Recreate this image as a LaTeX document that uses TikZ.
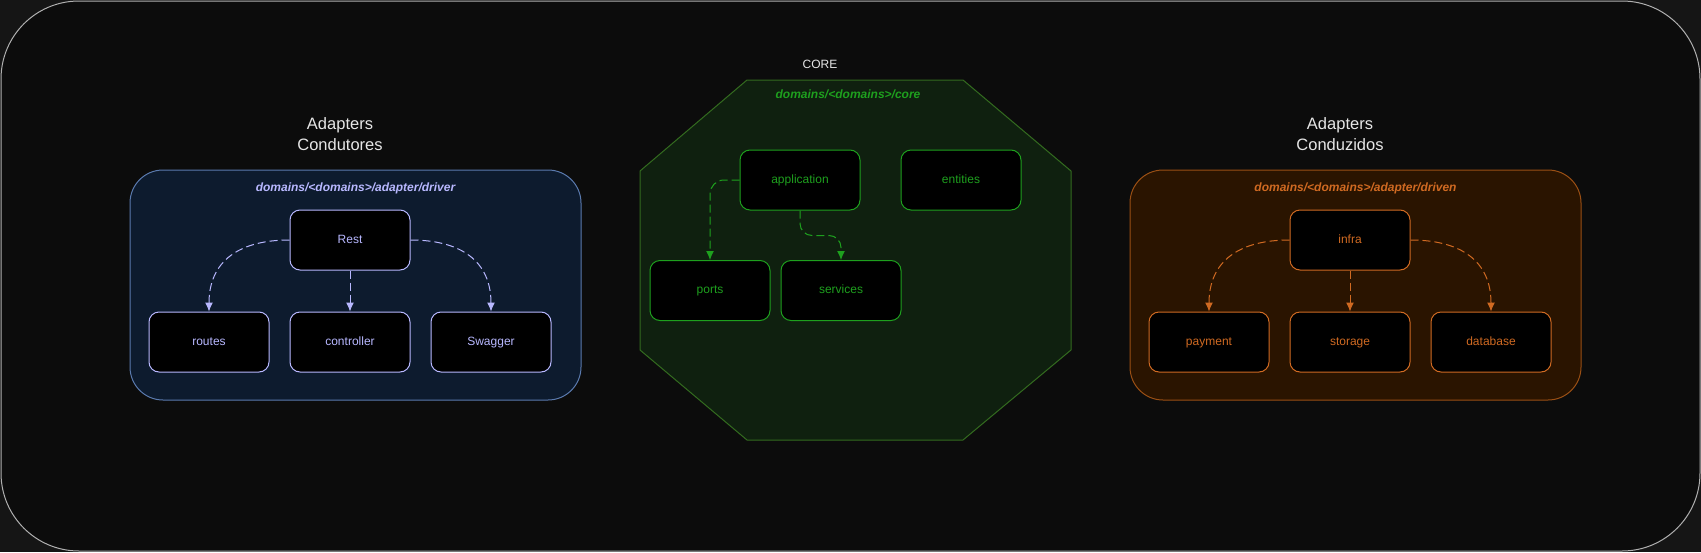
\documentclass[tikz,border=0pt]{standalone}
\usepackage{fontspec}
\setmainfont{Liberation Sans}
\usetikzlibrary{arrows.meta,positioning}

\definecolor{bgout}{HTML}{151515}
\definecolor{bgin}{HTML}{0C0C0C}
\definecolor{frame}{HTML}{B0B0B0}
\definecolor{titletext}{HTML}{E6E6E6}
\definecolor{drvfill}{HTML}{0D1B2E}
\definecolor{drvline}{HTML}{5A7AAE}
\definecolor{drvtext}{HTML}{B8B8FF}
\definecolor{corefill}{HTML}{0F200F}
\definecolor{coreline}{HTML}{336B1F}
\definecolor{coretext}{HTML}{1EA01E}
\definecolor{dnfill}{HTML}{2A1400}
\definecolor{dnline}{HTML}{9A4F14}
\definecolor{dntext}{HTML}{D06A22}

\tikzset{box/.style    = {rectangle, draw=#1, text=#1, fill=black, rounded corners=10pt, minimum width=120pt,
		minimum height=60pt, inner sep=0pt, text height=9pt, text depth=2.5pt, font=\fontsize{12}{14}\selectfont},
	panel/.style  = {rectangle, draw, rounded corners=33pt, minimum width=451pt, minimum height=230pt},
	tag/.style    = {font=\fontsize{12}{14}\selectfont\bfseries\itshape},
	title/.style  = {text=titletext, align=center, font=\fontsize{16.5}{21}\selectfont},
	line/.style   = {draw, dash pattern=on 8pt off 4pt, -{Latex[length=9pt,width=8pt]}}
}

\begin{document}
\begin{tikzpicture}[x=1pt, y=-1pt, line width=1pt]
		\useasboundingbox (0,0) rectangle (1701,552);
		\fill[bgout] (0,0) rectangle (1701,552);
		\draw[frame, fill=bgin, rounded corners=78pt] (1,1) rectangle (1700,551);

		%% adapters condutores (driver)
		\node [title] (drvtitle) at (340,134.5) {Adapters\\Condutores};
		\node [panel, draw=drvline, fill=drvfill] (driver) at (355.5,285) {};
		\node [tag, drvtext] (drvtag) at ([yshift=-19pt]driver.north) {domains/<domains>/adapter/driver};
		\node [box=drvtext] (rest) at (350,240) {Rest};
		\node [box=drvtext, below=41pt of rest] (controller) {controller};
		\node [box=drvtext, left=20pt of controller] (routes) {routes};
		\node [box=drvtext, right=20pt of controller] (swagger) {Swagger};
		\path [line, drvtext] (rest.west) to[out=180, in=90, looseness=1.2] (routes.north);
		\path [line, drvtext] (rest.south) -- (controller.north);
		\path [line, drvtext] (rest.east) to[out=0, in=90, looseness=1.2] (swagger.north);

		%% core
		\node [text=titletext, font=\fontsize{12}{14}\selectfont] (coretitle) at (820,64) {CORE};
		\path [draw=coreline, fill=corefill] (747,80) -- (963,80) -- (1071,171) -- (1071,350) -- (963,440)
			-- (747,440) -- (640,350) -- (640,171) -- cycle;
		\node [tag, coretext] (coretag) at (848,94) {domains/<domains>/core};
		\node [box=coretext] (app) at (800,180) {application};
		\node [box=coretext, right=40pt of app] (entities) {entities};
		\node [box=coretext] (ports) at (710,290.5) {ports};
		\node [box=coretext, right=10pt of ports] (services) {services};
		\path [line, coretext, rounded corners=14pt] (app.west) -| (ports.north);
		\path [line, coretext, rounded corners=12pt] (app.south) -- ++(0,25) -| (services.north);

		%% adapters conduzidos (driven)
		\node [title] (dntitle) at (1340,134.5) {Adapters\\Conduzidos};
		\node [panel, draw=dnline, fill=dnfill] (driven) at (1355.5,285) {};
		\node [tag, dntext] (dntag) at ([yshift=-19pt]driven.north) {domains/<domains>/adapter/driven};
		\node [box=dntext] (infra) at (1350,240) {infra};
		\node [box=dntext, below=41pt of infra] (storage) {storage};
		\node [box=dntext, left=20pt of storage] (payment) {payment};
		\node [box=dntext, right=20pt of storage] (database) {database};
		\path [line, dntext] (infra.west) to[out=180, in=90, looseness=1.2] (payment.north);
		\path [line, dntext] (infra.south) -- (storage.north);
		\path [line, dntext] (infra.east) to[out=0, in=90, looseness=1.2] (database.north);
	\end{tikzpicture}
\end{document}
